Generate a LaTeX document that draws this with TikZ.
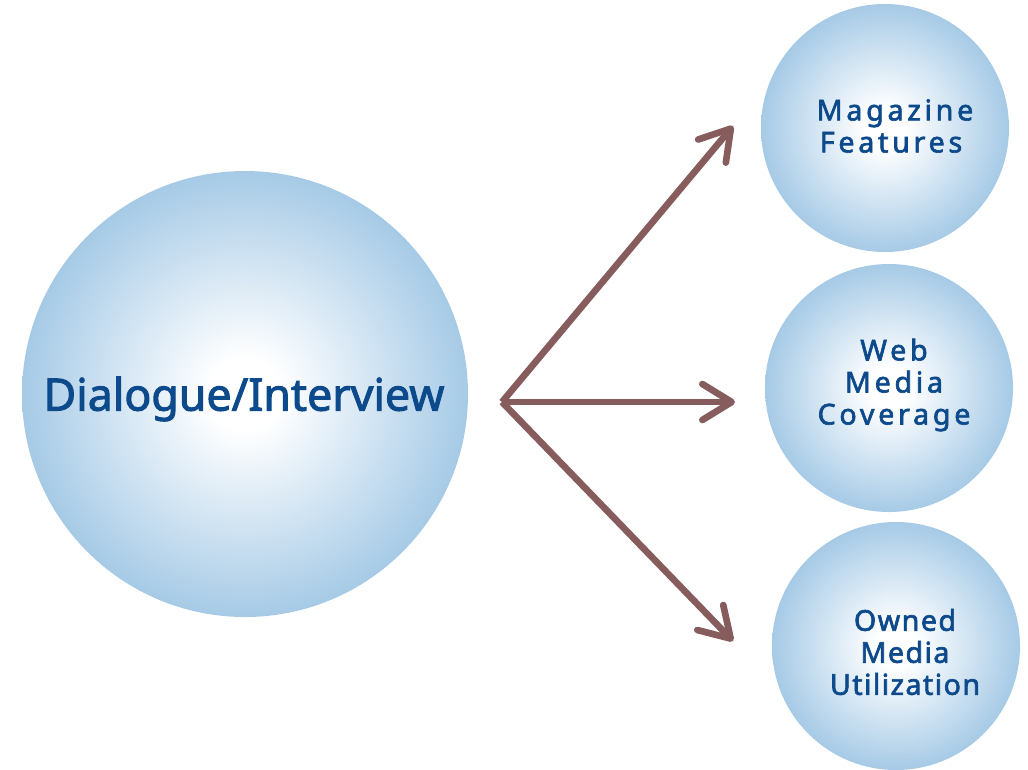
\documentclass[tikz,border=0pt]{standalone}
\usepackage{fontspec}
\setmainfont{Noto Sans}
\newfontfamily\labelfont{Noto Sans}[FakeBold=2.2]
\usetikzlibrary{arrows.meta}
\definecolor{ballblue}{HTML}{A6CAE6}
\definecolor{labelblue}{HTML}{0D4A8C}
\definecolor{arrowbrown}{HTML}{875C5C}
\pgfdeclareradialshading{ballshade}{\pgfpoint{0bp}{0bp}}{%
  color(0bp)=(white); color(4bp)=(white); color(25bp)=(ballblue); color(50bp)=(ballblue)}
\tikzset{
  ball/.style={circle, shading=ballshade, inner sep=0pt, minimum size=#1},
  caption/.style={text=labelblue, align=center, inner sep=0pt},
  bigcap/.style={caption, font=\labelfont\fontsize{33.5}{38}\selectfont},
  smallcap/.style={caption, font=\labelfont\fontsize{21.5}{24}\selectfont\addfontfeature{LetterSpace=5}},
  spaced/.style={caption, font=\labelfont\fontsize{21.5}{24}\selectfont\addfontfeature{LetterSpace=13}},
  flow/.style={draw=arrowbrown, line width=5pt,
    -{Straight Barb[length=22pt, width=27pt, line width=5pt, round]}},
}
\begin{document}
\begin{tikzpicture}[x=0.75pt, y=-0.75pt]
  \useasboundingbox (0,0) rectangle (1028,769);
  % source topic
  \node[ball=334.5pt] (src) at (245,394) {};
  \node[bigcap] (srctext) at (244,399) {Dialogue/Interview};
  % outlets
  \node[ball=186pt] (mag) at (885,128) {};
  \node[spaced] (magtext) at (891,126) {\hspace*{6pt}Magazine\\Features};
  \node[ball=186pt] (web) at (889,388) {};
  \node[spaced] (webtext) at (894,385) {Web\\Media\\Coverage};
  \node[ball=186pt] (own) at (896,646) {};
  \node[smallcap] (owntext) at (905,652) {Owned\\Media\\Utilization};
  % branching arrows
  \coordinate (fork) at (502,402);
  \coordinate (magin) at (733,126);
  \coordinate (webin) at (735,402);
  \coordinate (ownin) at (733,641);
  \draw[flow] (fork) -- (magin);
  \draw[flow] (fork) -- (webin);
  \draw[flow] (fork) -- (ownin);
\end{tikzpicture}
\end{document}
